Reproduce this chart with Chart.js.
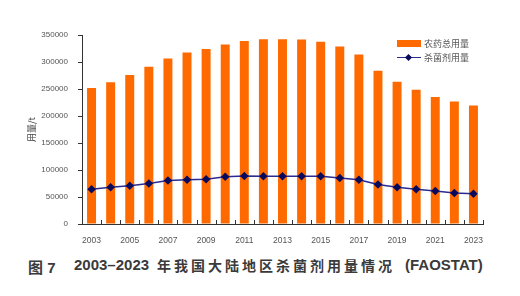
<!DOCTYPE html>
<html>
<head>
<meta charset="utf-8">
<script src="https://cdn.jsdelivr.net/npm/chart.js@4"></script>
<style>
  html, body { margin: 0; padding: 0; background: #fff; }
  #wrap { position: relative; width: 520px; height: 296px; overflow: hidden; }
  #chartBox { position: absolute; left: 0; top: 0; width: 520px; height: 250px; }
  .legend { position: absolute; left: 397px; font: 9px "Noto Sans CJK SC", sans-serif; color: #555; display: flex; align-items: center; }
  .swatch { display: inline-block; width: 24px; height: 7px; background: #ff6a00; margin-right: 3px; }
  .lineMark { position: relative; display: inline-block; width: 24px; height: 8px; margin-right: 3px; }
  .lineMark::before { content: ""; position: absolute; left: 0; right: 0; top: 3px; height: 1.5px; background: #2b2b8f; }
  .lineMark::after { content: ""; position: absolute; left: 9px; top: 1px; width: 5px; height: 5px; background: #0a0a5c; transform: rotate(45deg); }
  .cap { position: absolute; top: 256px; font: bold 15px "Liberation Sans", "Noto Sans CJK SC", sans-serif; color: #3a3a3a; white-space: nowrap; }
</style>
</head>
<body>
<div id="wrap">
  <div id="chartBox"><canvas id="chart"></canvas></div>
  <div class="legend" style="top:37px"><span class="swatch"></span>农药总用量</div>
  <div class="legend" style="top:51px"><span class="lineMark"></span>杀菌剂用量</div>
  <div class="cap" style="left:28px">图 7</div>
  <div class="cap" style="left:74px">2003–2023</div>
  <div class="cap" style="left:157px; top:255px; letter-spacing:3px; font-size:14px; font-family:'Noto Sans CJK SC', sans-serif;">年我国大陆地区杀菌剂用量情况</div>
  <div class="cap" style="left:405px">(FAOSTAT)</div>
</div>
<script>
// 年份
const years = ['2003', '2004', '2005', '2006', '2007', '2008', '2009', '2010', '2011', '2012', '2013',
    '2014', '2015', '2016', '2017', '2018', '2019', '2020', '2021', '2022', '2023'];

// 农药总用量 (t)
const totalUse = [252000, 262500, 276000, 291000, 306500, 317500, 324000, 332500, 339000, 342000, 342000,
    341500, 337500, 328500, 314000, 284000, 263500, 248500, 235000, 227000, 219500];

// 杀菌剂用量 (t)
const fungicideUse = [64500, 68000, 71000, 75000, 80500, 82000, 83000, 87500, 89000, 88500, 88500,
    88500, 88500, 85000, 82000, 73000, 68000, 64500, 61000, 57500, 56000];

const yTicks = [0, 50000, 100000, 150000, 200000, 250000, 300000, 350000];

// x轴刻度线朝上画在类别之间
const innerTicks = {
    id: 'innerTicks',
    afterDatasetsDraw(chart) {
        const ctx = chart.ctx;
        const x = chart.scales.x;
        const bottom = chart.chartArea.bottom;
        const step = (x.right - x.left) / years.length;
        ctx.save();
        ctx.strokeStyle = '#333';
        ctx.lineWidth = 1;
        ctx.beginPath();
        for (let i = 0; i <= years.length; i++) {
            const px = Math.round(x.left + i * step) + 0.5;
            ctx.moveTo(px, bottom);
            ctx.lineTo(px, bottom - 4);
        }
        ctx.stroke();
        ctx.restore();
    }
};

const ctx = document.getElementById('chart').getContext('2d');
new Chart(ctx, {
    type: 'bar',
    data: {
        labels: years,
        datasets: [{
            type: 'line',
            label: '杀菌剂用量',
            data: fungicideUse,
            borderColor: '#2b2b8f',
            borderWidth: 1.5,
            pointStyle: 'rectRot',
            pointRadius: 3.2,
            pointBackgroundColor: '#0a0a5c',
            pointBorderColor: '#0a0a5c',
            tension: 0,
            order: 1
        }, {
            label: '农药总用量',
            data: totalUse,
            backgroundColor: '#ff6a00',
            categoryPercentage: 1,
            barPercentage: 0.47,
            order: 2
        }]
    },
    options: {
        responsive: true,
        maintainAspectRatio: false,
        animation: false,
        layout: { padding: { top: 35, right: 37, left: 0, bottom: 0 } },
        plugins: {
            legend: { display: false },
            tooltip: { enabled: false }
        },
        scales: {
            x: {
                offset: true,
                grid: { display: false, drawTicks: false },
                border: { color: '#333', width: 1 },
                ticks: {
                    autoSkip: false,
                    maxRotation: 0,
                    padding: 12,
                    color: '#555',
                    font: { family: 'Liberation Sans', size: 8.5 },
                    callback: (v, i) => (i % 2 === 0 ? years[i] : '')
                },
                afterFit: s => { s.height = 26; }
            },
            y: {
                min: 0,
                max: 350000,
                afterBuildTicks: s => { s.ticks = yTicks.map(v => ({ value: v })); },
                grid: { drawOnChartArea: false, tickLength: 4, color: '#333' },
                border: { color: '#333', width: 1 },
                ticks: {
                    padding: 10,
                    color: '#555',
                    font: { family: 'Liberation Sans', size: 8 },
                    callback: v => String(v)
                },
                title: {
                    display: true,
                    text: '用量/t',
                    color: '#444',
                    font: { family: 'Noto Sans CJK SC', size: 9 },
                    padding: { top: 26, bottom: 0 }
                },
                afterFit: s => { s.width = 82; }
            }
        }
    },
    plugins: [innerTicks]
});
</script>
</body>
</html>
